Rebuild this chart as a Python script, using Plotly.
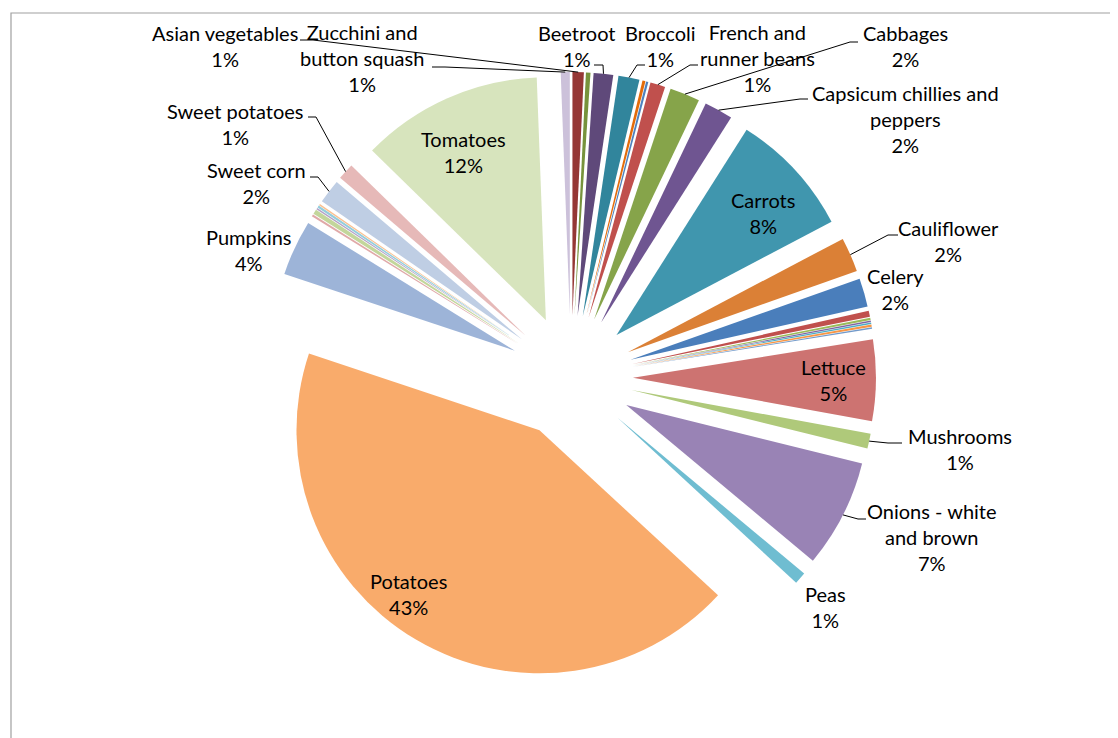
import math
import plotly.graph_objects as go

# ---------------- data (clockwise from 12 o'clock) ----------------
categories = [
    "Asian vegetables", "Other 1", "Beetroot", "Broccoli", "Other 2", "Other 3",
    "French and runner beans", "Cabbages", "Capsicum chillies and peppers",
    "Carrots", "Cauliflower", "Celery", "Other 4", "Other 5", "Other 6",
    "Other 7", "Other 8", "Other 9", "Lettuce", "Mushrooms",
    "Onions - white and brown", "Peas", "Potatoes", "Pumpkins",
    "Other 10", "Other 11", "Other 12", "Other 13", "Other 14",
    "Sweet corn", "Sweet potatoes", "Tomatoes", "Zucchini and button squash",
]
values = [
    0.75, 0.3, 1.3, 1.4, 0.2, 0.15,
    1.0, 2.0, 1.9,
    8.3, 2.3, 1.9, 0.4, 0.15, 0.1,
    0.1, 0.15, 0.1, 5.4, 1.0,
    7.2, 0.8, 43.3, 3.7,
    0.15, 0.3, 0.1, 0.15, 0.1,
    1.6, 1.1, 12.1, 0.6,
]
slice_colors = [
    "#953735", "#77933C", "#5F497A", "#31859C", "#E46C0A", "#4F81BD",
    "#C0504D", "#86A44A", "#6F5591",
    "#4096AE", "#DB8036", "#4A7EBB", "#C0504D", "#9BBB59", "#8064A2",
    "#4BACC6", "#F79646", "#729ACA", "#CD7371", "#AFC97A",
    "#9983B5", "#6FBDD1", "#F9AB6B", "#9DB4D8",
    "#E0A9A8", "#C3D69B", "#B3A2C7", "#93CDDD", "#FAC090",
    "#BFCEE4", "#E6B9B8", "#D7E4BD", "#CCC1DA",
]

# display names with line breaks (text layout only)
display_names = {
    "Zucchini and button squash": "Zucchini and<br>button squash",
    "French and runner beans": "French and<br>runner beans",
    "Capsicum chillies and peppers": "Capsicum chillies and<br>peppers",
    "Onions - white and brown": "Onions - white<br>and brown",
}

# ---------------- layout constants (page pixels) ----------------
W, H = 1118, 738
OFF = 8                    # page body margin in front of the figure
CX, CY = 571, 377          # pie centre
R = 243                    # pie radius
PULL = 0.255               # explosion as fraction of radius

# label block centres (px) and optional leader (stub start, stub end)
label_pos = {
    "Asian vegetables": (225, 46),
    "Zucchini and button squash": (362, 58),
    "Beetroot": (577, 46),
    "Broccoli": (660, 46),
    "French and runner beans": (757, 58),
    "Cabbages": (905, 46),
    "Capsicum chillies and peppers": (905, 119),
    "Carrots": (763, 213),
    "Cauliflower": (948, 241),
    "Celery": (895, 289),
    "Lettuce": (833, 380),
    "Mushrooms": (960, 449),
    "Onions - white and brown": (932, 537),
    "Peas": (825, 607),
    "Potatoes": (408, 594),
    "Pumpkins": (249, 250),
    "Sweet corn": (256, 183),
    "Sweet potatoes": (235, 124),
    "Tomatoes": (463, 152),
}
leader_stub = {
    "Asian vegetables": ((300, 40), (313, 40)),
    "Zucchini and button squash": ((432, 67), (445, 67)),
    "Beetroot": ((594, 65), (603, 65)),
    "Broccoli": ((645, 65), (637, 65)),
    "French and runner beans": ((698, 65), (690, 65)),
    "Cabbages": ((858, 42), (850, 42)),
    "Capsicum chillies and peppers": ((808, 99), (800, 99)),
    "Cauliflower": ((898, 235), (888, 235)),
    "Mushrooms": ((902, 443), (888, 443)),
    "Onions - white and brown": ((866, 519), (858, 519)),
    "Sweet corn": ((310, 177), (318, 177)),
    "Sweet potatoes": ((308, 117), (316, 117)),
}


def px(x):
    return (x - OFF) / W


def py(y):
    return 1 - (y - OFF) / H


total = sum(values)
half_box = R * (1 + PULL)

fig = go.Figure(
    go.Pie(
        labels=categories,
        values=values,
        sort=False,
        direction="clockwise",
        rotation=0,
        pull=[PULL] * len(values),
        marker=dict(colors=slice_colors, line=dict(width=0)),
        textinfo="none",
        hovertemplate="%{label}: %{percent}<extra></extra>",
        domain=dict(
            x=[px(CX - half_box), px(CX + half_box)],
            y=[py(CY + half_box), py(CY - half_box)],
        ),
        showlegend=False,
    )
)

annotations = []
shapes = []
cum = 0.0
for name, v in zip(categories, values):
    mid = (cum + v / 2) / total * 2 * math.pi
    cum += v
    if name not in label_pos:
        continue
    pct = int(v / total * 100 + 0.5)
    txt = f"{display_names.get(name, name)}<br>{pct}%"
    lx, ly = label_pos[name]
    annotations.append(dict(
        x=px(lx), y=py(ly), xref="paper", yref="paper",
        text=txt, showarrow=False, xanchor="center", yanchor="middle",
        align="center",
        font=dict(family="Lato, Liberation Sans, sans-serif", size=20, color="#000000"),
    ))
    if name in leader_stub:
        (sx0, sy0), (sx1, sy1) = leader_stub[name]
        ex = CX + R * (1 + PULL) * math.sin(mid)
        ey = CY - R * (1 + PULL) * math.cos(mid)
        path = f"M {px(sx0)},{py(sy0)} L {px(sx1)},{py(sy1)} L {px(ex)},{py(ey)}"
        shapes.append(dict(type="path", xref="paper", yref="paper", path=path,
                           line=dict(color="#000000", width=1)))

# outer chart frame (top and left edges visible)
shapes.append(dict(type="rect", xref="paper", yref="paper",
                   x0=px(11), y0=py(13), x1=px(W + 40), y1=py(H + 40),
                   line=dict(color="#A0A0A0", width=1.2), layer="below"))

fig.update_layout(
    width=W, height=H,
    margin=dict(l=0, r=0, t=0, b=0),
    paper_bgcolor="#FFFFFF",
    plot_bgcolor="#FFFFFF",
    annotations=annotations,
    shapes=shapes,
)

fig.write_html("out.html")
